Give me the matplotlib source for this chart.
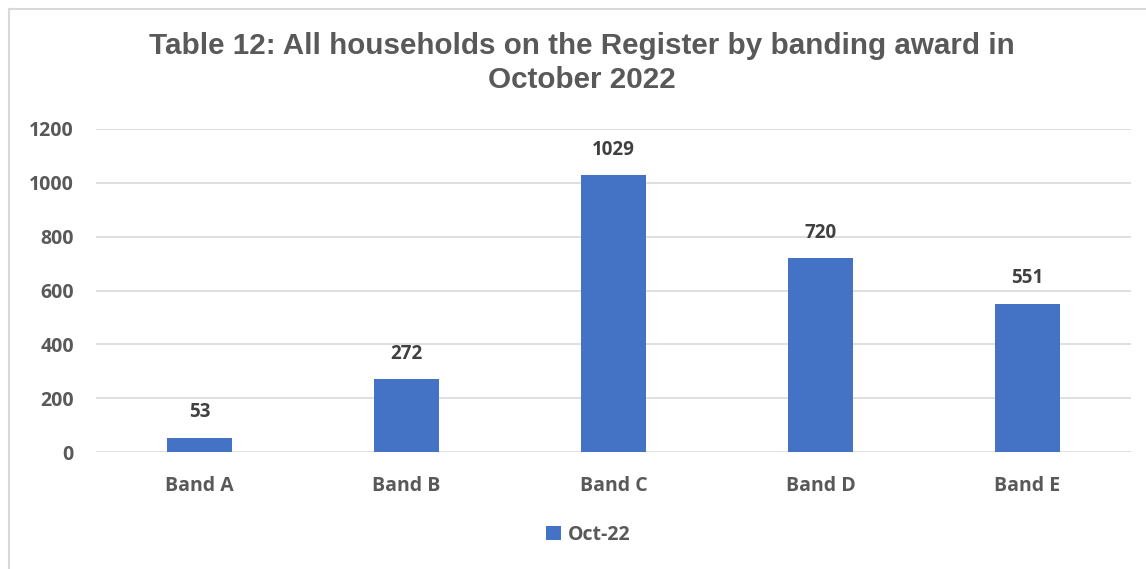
import matplotlib.pyplot as plt
from matplotlib.lines import Line2D

# Households on the register by banding award, October 2022
bands = ['Band A', 'Band B', 'Band C', 'Band D', 'Band E']
households = [53, 272, 1029, 720, 551]
series_name = 'Oct-22'
y_ticks = [0, 200, 400, 600, 800, 1000, 1200]

bar_color = '#4472C4'
text_grey = '#595959'
label_grey = '#404040'
grid_grey = '#D9D9D9'
body_font = ['Open Sans', 'DejaVu Sans']

fig = plt.figure(figsize=(11.46, 5.69), dpi=100)
ax = fig.add_axes([96 / 1146, 1 - 452 / 569, 1035 / 1146, 323 / 569])

x = range(len(bands))
bars = ax.bar(x, households, width=0.315, color=bar_color, label=series_name, zorder=3)

for rect, v in zip(bars, households):
    ax.annotate(str(v), (rect.get_x() + rect.get_width() / 2, v),
                xytext=(0, 11), textcoords='offset points', ha='center', va='bottom',
                fontsize=13.5, fontweight='bold', color=label_grey, family=body_font)

ax.set_xlim(-0.5, len(bands) - 0.5)
ax.set_ylim(0, 1200)
ax.set_yticks(y_ticks)
ax.set_xticks(list(x))
ax.set_xticklabels(bands)
ax.yaxis.grid(True, color=grid_grey, linewidth=1.2, zorder=0)
for s in ax.spines.values():
    s.set_visible(False)
ax.tick_params(length=0, labelsize=14, labelcolor=text_grey)
ax.tick_params(axis='y', pad=16)
ax.tick_params(axis='x', pad=17)
for lab in ax.get_xticklabels() + ax.get_yticklabels():
    lab.set_fontweight('bold')
    lab.set_family(body_font)

fig.text(582 / 1146, 1 - 63 / 569, 'Table 12: All households on the Register by banding award in\nOctober 2022',
         ha='center', va='center', fontsize=21.3, fontweight='bold', color=text_grey,
         family='Liberation Sans', linespacing=1.25)

leg = fig.legend(loc='center', bbox_to_anchor=(588 / 1146, 1 - 535 / 569), frameon=False,
                 handlelength=0.75, handleheight=0.75, handletextpad=0.35,
                 prop={'family': body_font, 'weight': 'bold', 'size': 14})
for t in leg.get_texts():
    t.set_color(text_grey)

# chart frame, cut off at the right and bottom edges
fy = 1 - 8.5 / 569
fx = 8.5 / 1146
fig.add_artist(Line2D([fx, 1.0], [fy, fy], transform=fig.transFigure, color=grid_grey, linewidth=1.5))
fig.add_artist(Line2D([fx, fx], [0.0, fy], transform=fig.transFigure, color=grid_grey, linewidth=1.5))

fig.savefig('out.png', dpi=100)
